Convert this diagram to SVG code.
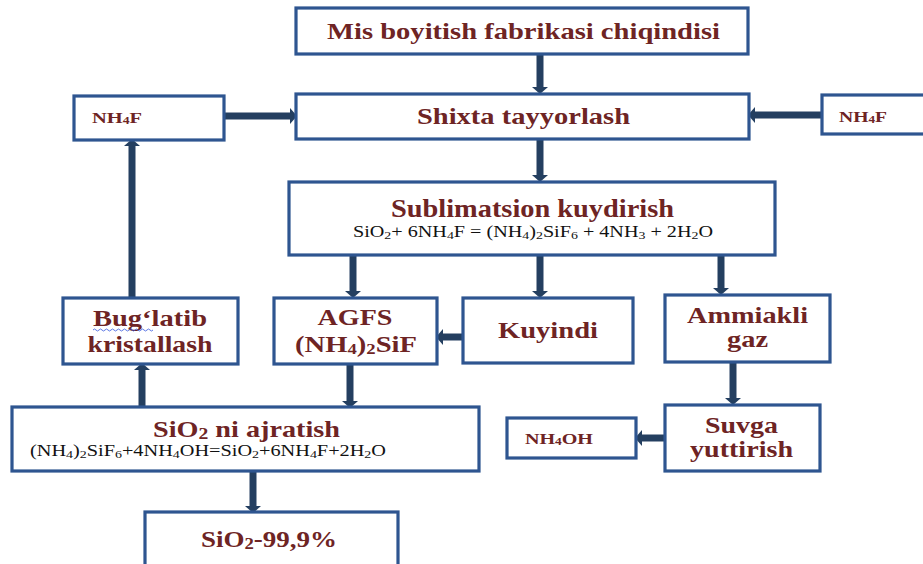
<svg xmlns="http://www.w3.org/2000/svg" width="923" height="564" viewBox="0 0 923 564">
<defs>
<style>
.box{fill:#fff;stroke:#2E5590;stroke-width:3.2}
.t{font-family:"Liberation Serif","Times New Roman",serif;font-weight:bold;fill:#6E2424;text-anchor:middle}
.eq{font-family:"Liberation Serif","Times New Roman",serif;font-weight:normal;fill:#111;text-anchor:middle}
.con line{stroke:#243F60;stroke-width:7;marker-end:url(#ah)}
</style>
<marker id="ah" markerUnits="userSpaceOnUse" markerWidth="7" markerHeight="16" refX="0" refY="8" orient="auto" viewBox="0 0 7 16">
<path d="M0,0 L7,8 L0,16 z" fill="#243F60"/>
</marker>
</defs>
<rect width="923" height="564" fill="#fff"/>

<g id="connectors" class="con">
<line x1="540" y1="54" x2="540" y2="87"/>
<line x1="224" y1="116" x2="290" y2="116"/>
<line x1="821" y1="115" x2="755" y2="115"/>
<line x1="540" y1="139" x2="540" y2="175"/>
<line x1="353" y1="255" x2="353" y2="291"/>
<line x1="540" y1="255" x2="540" y2="291"/>
<line x1="721" y1="255" x2="721" y2="288"/>
<line x1="462" y1="337" x2="443" y2="337"/>
<line x1="350" y1="364" x2="350" y2="401"/>
<line x1="142" y1="407" x2="142" y2="370"/>
<line x1="132" y1="297" x2="132" y2="146"/>
<line x1="733" y1="362" x2="733" y2="398"/>
<line x1="664" y1="438" x2="642" y2="438"/>
<line x1="253" y1="471" x2="253" y2="506"/>
</g>

<g id="n-mis">
<rect class="box" x="296" y="8" width="452" height="46"/>
<text class="t" x="523.5" y="39" font-size="23" textLength="393" lengthAdjust="spacingAndGlyphs">Mis boyitish fabrikasi chiqindisi</text>
</g>

<g id="n-shixta">
<rect class="box" x="296" y="94" width="453" height="45"/>
<text class="t" x="523.5" y="124" font-size="23" textLength="213" lengthAdjust="spacingAndGlyphs">Shixta tayyorlash</text>
</g>

<g id="n-nh4f-left">
<rect class="box" x="74" y="96" width="150" height="44"/>
<text class="t" x="92" y="123" font-size="15" style="text-anchor:start" textLength="50" lengthAdjust="spacingAndGlyphs">NH<tspan font-size="10" dy="1">4</tspan><tspan dy="-1">F</tspan></text>
</g>

<g id="n-nh4f-right">
<rect class="box" x="822" y="95" width="110" height="39"/>
<text class="t" x="839" y="122" font-size="15" style="text-anchor:start" textLength="48" lengthAdjust="spacingAndGlyphs">NH<tspan font-size="10" dy="1">4</tspan><tspan dy="-1">F</tspan></text>
</g>

<g id="n-sublimatsion">
<rect class="box" x="289" y="182" width="486" height="73"/>
<text class="t" x="532.5" y="217" font-size="25" textLength="283" lengthAdjust="spacingAndGlyphs">Sublimatsion kuydirish</text>
<text class="eq" x="533" y="237" font-size="16" textLength="360" lengthAdjust="spacingAndGlyphs">SiO<tspan font-size="11" dy="2">2</tspan><tspan dy="-2">+ 6NH</tspan><tspan font-size="11" dy="2">4</tspan><tspan dy="-2">F = (NH</tspan><tspan font-size="11" dy="2">4</tspan><tspan dy="-2">)</tspan><tspan font-size="11" dy="2">2</tspan><tspan dy="-2">SiF</tspan><tspan font-size="11" dy="2">6</tspan><tspan dy="-2"> + 4NH</tspan><tspan font-size="11" dy="2">3</tspan><tspan dy="-2"> + 2H</tspan><tspan font-size="11" dy="2">2</tspan><tspan dy="-2">O</tspan></text>
</g>

<g id="n-buglatib">
<rect class="box" x="63" y="298" width="175" height="66"/>
<text class="t" x="150" y="326" font-size="23" textLength="114" lengthAdjust="spacingAndGlyphs">Bug‘latib</text>
<path d="M93,330 q1.5,-2 3,0 t3,0 t3,0 t3,0 t3,0 t3,0 t3,0 t3,0 t3,0 t3,0 t3,0 t3,0 t3,0 t3,0 t3,0 t3,0 t3,0 t3,0 t3,0 t3,0" fill="none" stroke="#3355dd" stroke-width="0.8"/>
<text class="t" x="150" y="352" font-size="23" textLength="125" lengthAdjust="spacingAndGlyphs">kristallash</text>
</g>

<g id="n-agfs">
<rect class="box" x="274" y="298" width="163" height="66"/>
<text class="t" x="355" y="325" font-size="23" textLength="75" lengthAdjust="spacingAndGlyphs">AGFS</text>
<text class="t" x="356" y="352" font-size="23" textLength="122" lengthAdjust="spacingAndGlyphs">(NH<tspan font-size="15" dy="2">4</tspan><tspan dy="-2">)</tspan><tspan font-size="15" dy="2">2</tspan><tspan dy="-2">SiF</tspan></text>
</g>

<g id="n-kuyindi">
<rect class="box" x="463" y="298" width="170" height="65"/>
<text class="t" x="548" y="338" font-size="23" textLength="100" lengthAdjust="spacingAndGlyphs">Kuyindi</text>
</g>

<g id="n-ammiakli">
<rect class="box" x="665" y="295" width="165" height="67"/>
<text class="t" x="747.5" y="323" font-size="23" textLength="121" lengthAdjust="spacingAndGlyphs">Ammiakli</text>
<text class="t" x="747.5" y="347" font-size="23" textLength="41" lengthAdjust="spacingAndGlyphs">gaz</text>
</g>

<g id="n-suvga">
<rect class="box" x="665" y="405" width="155" height="66"/>
<text class="t" x="741.5" y="433" font-size="23" textLength="73" lengthAdjust="spacingAndGlyphs">Suvga</text>
<text class="t" x="741.5" y="457" font-size="23" textLength="103" lengthAdjust="spacingAndGlyphs">yuttirish</text>
</g>

<g id="n-nh4oh">
<rect class="box" x="507" y="418" width="129" height="40"/>
<text class="t" x="525" y="444" font-size="15" style="text-anchor:start" textLength="68" lengthAdjust="spacingAndGlyphs">NH<tspan font-size="10" dy="1">4</tspan><tspan dy="-1">OH</tspan></text>
</g>

<g id="n-sio2-ajratish">
<rect class="box" x="12" y="407" width="467" height="64"/>
<text class="t" x="246.5" y="437" font-size="23" textLength="187" lengthAdjust="spacingAndGlyphs">SiO<tspan font-size="16" dy="2">2</tspan><tspan dy="-2"> ni ajratish</tspan></text>
<text class="eq" x="208" y="456" font-size="16" textLength="356" lengthAdjust="spacingAndGlyphs">(NH<tspan font-size="11" dy="2">4</tspan><tspan dy="-2">)</tspan><tspan font-size="11" dy="2">2</tspan><tspan dy="-2">SiF</tspan><tspan font-size="11" dy="2">6</tspan><tspan dy="-2">+4NH</tspan><tspan font-size="11" dy="2">4</tspan><tspan dy="-2">OH=SiO</tspan><tspan font-size="11" dy="2">2</tspan><tspan dy="-2">+6NH</tspan><tspan font-size="11" dy="2">4</tspan><tspan dy="-2">F+2H</tspan><tspan font-size="11" dy="2">2</tspan><tspan dy="-2">O</tspan></text>
</g>

<g id="n-sio2-final">
<rect class="box" x="145" y="512" width="253" height="70"/>
<text class="t" x="269" y="547" font-size="23" textLength="136" lengthAdjust="spacingAndGlyphs">SiO<tspan font-size="16" dy="2">2</tspan><tspan dy="-2">-99,9%</tspan></text>
</g>
</svg>
